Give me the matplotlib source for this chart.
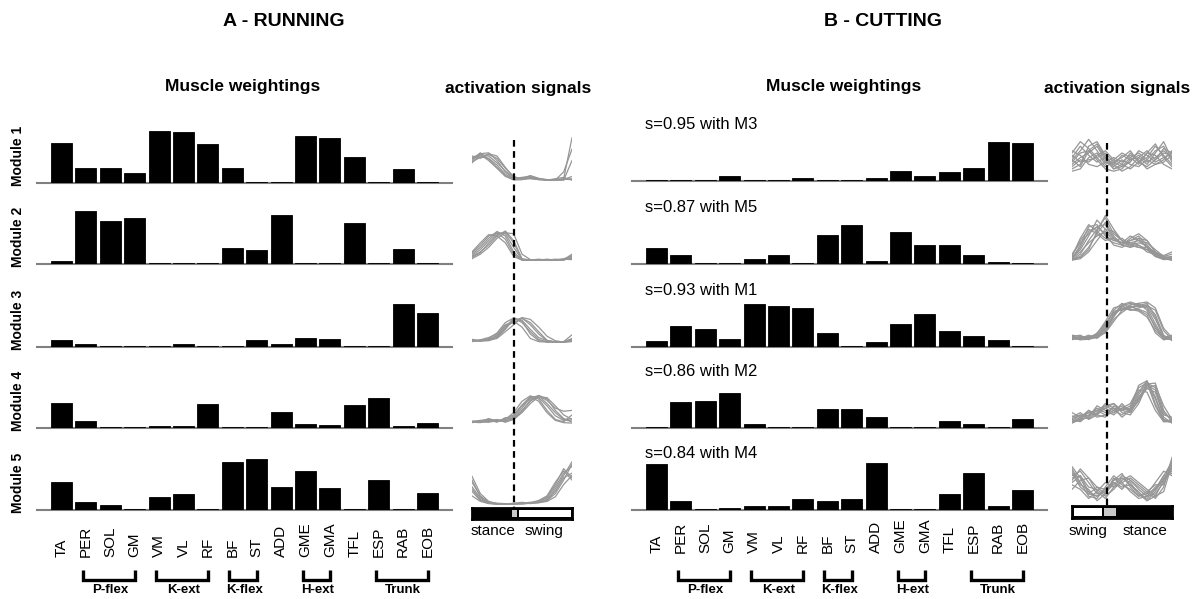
import matplotlib
matplotlib.use('Agg')
import matplotlib.pyplot as plt
import matplotlib.transforms as mtransforms
from matplotlib.lines import Line2D
import numpy as np

plt.rcParams['font.family'] = ['Liberation Sans', 'DejaVu Sans']

# muscles and groups
muscles = ['TA', 'PER', 'SOL', 'GM', 'VM', 'VL', 'RF', 'BF', 'ST', 'ADD',
           'GME', 'GMA', 'TFL', 'ESP', 'RAB', 'EOB']
group_names = ['P-flex', 'K-ext', 'K-flex', 'H-ext', 'Trunk']
group_first = [1, 4, 7, 10, 13]
group_last = [3, 6, 8, 11, 15]

# muscle weightings, running (modules 1-5)
run_weights = [
    [0.73, 0.27, 0.27, 0.19, 0.945, 0.927, 0.72, 0.27, 0.01, 0.01, 0.855, 0.82, 0.47, 0.01, 0.25, 0.01],
    [0.06, 0.97, 0.78, 0.85, 0.01, 0.01, 0.01, 0.30, 0.25, 0.89, 0.01, 0.01, 0.76, 0.01, 0.27, 0.025],
    [0.13, 0.05, 0.01, 0.01, 0.01, 0.05, 0.01, 0.01, 0.13, 0.05, 0.16, 0.15, 0.01, 0.01, 0.78, 0.62],
    [0.46, 0.13, 0.01, 0.01, 0.03, 0.03, 0.44, 0.01, 0.01, 0.30, 0.067, 0.055, 0.42, 0.545, 0.03, 0.10],
    [0.51, 0.14, 0.10, 0.01, 0.24, 0.285, 0.01, 0.88, 0.94, 0.43, 0.715, 0.40, 0.01, 0.545, 0.01, 0.32],
]

# muscle weightings, cutting (modules 1-5)
cut_weights = [
    [0.02, 0.01, 0.02, 0.10, 0.01, 0.01, 0.05, 0.01, 0.02, 0.06, 0.19, 0.10, 0.16, 0.24, 0.715, 0.70],
    [0.30, 0.17, 0.01, 0.01, 0.09, 0.17, 0.01, 0.54, 0.72, 0.06, 0.59, 0.35, 0.35, 0.17, 0.04, 0.01],
    [0.11, 0.38, 0.33, 0.145, 0.78, 0.745, 0.71, 0.255, 0.01, 0.085, 0.42, 0.60, 0.30, 0.21, 0.13, 0.01],
    [0.015, 0.485, 0.50, 0.64, 0.067, 0.02, 0.02, 0.345, 0.345, 0.21, 0.015, 0.02, 0.13, 0.067, 0.02, 0.17],
    [0.84, 0.17, 0.01, 0.036, 0.08, 0.08, 0.21, 0.17, 0.21, 0.86, 0.01, 0.01, 0.30, 0.67, 0.08, 0.36],
]
cut_similarity = [0.95, 0.87, 0.93, 0.86, 0.84]
cut_match = ['M3', 'M5', 'M1', 'M2', 'M4']

# activation signals sampled over the cycle (0..1)
cycle = np.linspace(0, 1, 13)
run_curves = [
    [[0.45, 0.60, 0.62, 0.45, 0.20, 0.05, 0.08, 0.10, 0.05, 0.03, 0.03, 0.05, 0.95],
     [0.50, 0.55, 0.50, 0.35, 0.15, 0.04, 0.06, 0.12, 0.06, 0.02, 0.02, 0.02, 0.45],
     [0.40, 0.58, 0.55, 0.40, 0.22, 0.08, 0.05, 0.05, 0.03, 0.02, 0.02, 0.03, 0.10],
     [0.55, 0.50, 0.58, 0.50, 0.28, 0.10, 0.04, 0.08, 0.04, 0.02, 0.05, 0.08, 0.02],
     [0.48, 0.62, 0.48, 0.30, 0.12, 0.02, 0.03, 0.06, 0.03, 0.03, 0.02, 0.03, 0.05],
     [0.42, 0.52, 0.60, 0.55, 0.30, 0.08, 0.04, 0.07, 0.05, 0.03, 0.02, 0.20, 0.70],
     [0.52, 0.58, 0.45, 0.28, 0.10, 0.03, 0.05, 0.09, 0.04, 0.02, 0.03, 0.04, 0.03]],
    [[0.15, 0.30, 0.50, 0.65, 0.55, 0.20, 0.02, 0.02, 0.03, 0.02, 0.03, 0.03, 0.05],
     [0.10, 0.20, 0.35, 0.55, 0.66, 0.45, 0.05, 0.02, 0.02, 0.04, 0.02, 0.03, 0.15],
     [0.20, 0.40, 0.58, 0.55, 0.40, 0.10, 0.02, 0.03, 0.02, 0.02, 0.03, 0.02, 0.08],
     [0.05, 0.15, 0.30, 0.50, 0.62, 0.60, 0.15, 0.03, 0.02, 0.03, 0.02, 0.04, 0.03],
     [0.12, 0.25, 0.45, 0.62, 0.60, 0.30, 0.03, 0.02, 0.04, 0.02, 0.02, 0.02, 0.12],
     [0.08, 0.18, 0.40, 0.58, 0.64, 0.40, 0.04, 0.02, 0.03, 0.02, 0.04, 0.03, 0.06],
     [0.18, 0.35, 0.55, 0.62, 0.48, 0.15, 0.02, 0.03, 0.02, 0.03, 0.02, 0.05, 0.10]],
    [[0.05, 0.05, 0.08, 0.15, 0.35, 0.50, 0.55, 0.40, 0.20, 0.05, 0.02, 0.02, 0.05],
     [0.06, 0.04, 0.10, 0.22, 0.45, 0.55, 0.45, 0.25, 0.08, 0.02, 0.02, 0.03, 0.18],
     [0.04, 0.06, 0.06, 0.10, 0.25, 0.40, 0.56, 0.52, 0.35, 0.15, 0.05, 0.02, 0.03],
     [0.08, 0.05, 0.05, 0.12, 0.30, 0.52, 0.50, 0.30, 0.12, 0.05, 0.03, 0.03, 0.08],
     [0.05, 0.07, 0.12, 0.20, 0.40, 0.48, 0.35, 0.10, 0.03, 0.02, 0.02, 0.02, 0.04],
     [0.07, 0.04, 0.06, 0.18, 0.38, 0.45, 0.54, 0.45, 0.25, 0.06, 0.02, 0.03, 0.06],
     [0.03, 0.06, 0.09, 0.14, 0.32, 0.56, 0.48, 0.20, 0.05, 0.03, 0.03, 0.02, 0.10]],
    [[0.05, 0.08, 0.10, 0.08, 0.05, 0.15, 0.35, 0.58, 0.62, 0.45, 0.25, 0.10, 0.05],
     [0.04, 0.05, 0.12, 0.06, 0.10, 0.25, 0.50, 0.62, 0.55, 0.30, 0.10, 0.05, 0.20],
     [0.06, 0.04, 0.05, 0.10, 0.04, 0.10, 0.25, 0.45, 0.60, 0.58, 0.40, 0.20, 0.10],
     [0.03, 0.06, 0.08, 0.05, 0.12, 0.20, 0.42, 0.60, 0.50, 0.25, 0.08, 0.03, 0.02],
     [0.05, 0.05, 0.04, 0.07, 0.06, 0.12, 0.30, 0.50, 0.62, 0.52, 0.35, 0.28, 0.30],
     [0.06, 0.07, 0.05, 0.09, 0.08, 0.18, 0.40, 0.55, 0.58, 0.40, 0.18, 0.08, 0.12],
     [0.04, 0.03, 0.09, 0.04, 0.14, 0.10, 0.28, 0.52, 0.63, 0.55, 0.30, 0.12, 0.06]],
    [[0.63, 0.25, 0.08, 0.03, 0.02, 0.03, 0.05, 0.04, 0.08, 0.15, 0.40, 0.70, 0.85],
     [0.40, 0.15, 0.05, 0.02, 0.03, 0.02, 0.04, 0.06, 0.05, 0.10, 0.25, 0.55, 0.90],
     [0.30, 0.10, 0.04, 0.03, 0.02, 0.04, 0.03, 0.05, 0.10, 0.20, 0.50, 0.75, 0.55],
     [0.20, 0.08, 0.03, 0.02, 0.02, 0.03, 0.06, 0.03, 0.06, 0.12, 0.30, 0.60, 0.70],
     [0.50, 0.20, 0.06, 0.04, 0.03, 0.02, 0.03, 0.04, 0.05, 0.08, 0.18, 0.45, 0.65],
     [0.55, 0.18, 0.05, 0.03, 0.02, 0.02, 0.04, 0.05, 0.07, 0.18, 0.45, 0.80, 0.60],
     [0.35, 0.12, 0.04, 0.02, 0.03, 0.03, 0.02, 0.04, 0.06, 0.10, 0.35, 0.65, 0.95]],
]
cut_curves = [
    [[0.40, 0.60, 0.85, 0.60, 0.35, 0.30, 0.50, 0.40, 0.45, 0.30, 0.55, 0.80, 0.40],
     [0.30, 0.45, 0.55, 0.70, 0.40, 0.20, 0.30, 0.55, 0.35, 0.45, 0.70, 0.50, 0.30],
     [0.50, 0.35, 0.40, 0.45, 0.55, 0.35, 0.25, 0.35, 0.60, 0.50, 0.35, 0.45, 0.55],
     [0.20, 0.30, 0.70, 0.80, 0.50, 0.25, 0.40, 0.30, 0.25, 0.40, 0.60, 0.70, 0.35],
     [0.60, 0.50, 0.30, 0.25, 0.35, 0.45, 0.35, 0.50, 0.40, 0.20, 0.30, 0.40, 0.60],
     [0.35, 0.55, 0.60, 0.40, 0.20, 0.15, 0.20, 0.40, 0.50, 0.35, 0.45, 0.60, 0.45],
     [0.15, 0.20, 0.45, 0.55, 0.30, 0.40, 0.55, 0.45, 0.30, 0.55, 0.50, 0.30, 0.20],
     [0.45, 0.70, 0.50, 0.35, 0.45, 0.30, 0.15, 0.25, 0.45, 0.60, 0.40, 0.55, 0.50],
     [0.55, 0.80, 0.65, 0.45, 0.25, 0.35, 0.45, 0.60, 0.35, 0.25, 0.40, 0.65, 0.55],
     [0.25, 0.40, 0.35, 0.50, 0.60, 0.40, 0.30, 0.20, 0.35, 0.55, 0.75, 0.45, 0.25],
     [0.40, 0.25, 0.60, 0.75, 0.45, 0.20, 0.25, 0.45, 0.55, 0.40, 0.30, 0.35, 0.50]],
    [[0.05, 0.35, 0.75, 0.80, 0.55, 0.45, 0.40, 0.45, 0.50, 0.30, 0.10, 0.03, 0.05],
     [0.02, 0.15, 0.45, 0.70, 0.95, 0.60, 0.45, 0.35, 0.40, 0.35, 0.15, 0.05, 0.03],
     [0.10, 0.50, 0.80, 0.65, 0.50, 0.40, 0.35, 0.50, 0.60, 0.45, 0.20, 0.08, 0.10],
     [0.03, 0.10, 0.30, 0.60, 0.85, 0.55, 0.35, 0.30, 0.35, 0.25, 0.10, 0.05, 0.02],
     [0.15, 0.40, 0.60, 0.75, 0.60, 0.35, 0.30, 0.40, 0.35, 0.20, 0.15, 0.10, 0.15],
     [0.02, 0.05, 0.20, 0.45, 0.70, 0.65, 0.45, 0.40, 0.45, 0.40, 0.25, 0.10, 0.05],
     [0.08, 0.25, 0.55, 0.90, 0.70, 0.50, 0.40, 0.55, 0.45, 0.30, 0.12, 0.04, 0.08],
     [0.05, 0.20, 0.40, 0.55, 0.65, 0.45, 0.50, 0.35, 0.30, 0.30, 0.20, 0.08, 0.03],
     [0.04, 0.30, 0.65, 0.75, 0.80, 0.50, 0.35, 0.45, 0.55, 0.35, 0.15, 0.06, 0.02],
     [0.12, 0.45, 0.70, 0.60, 0.45, 0.50, 0.40, 0.35, 0.30, 0.25, 0.18, 0.12, 0.20],
     [0.03, 0.08, 0.25, 0.65, 1.00, 0.70, 0.45, 0.30, 0.50, 0.45, 0.20, 0.06, 0.04]],
    [[0.10, 0.08, 0.12, 0.10, 0.25, 0.55, 0.80, 0.85, 0.80, 0.75, 0.40, 0.08, 0.05],
     [0.05, 0.10, 0.08, 0.15, 0.35, 0.70, 0.85, 0.75, 0.80, 0.85, 0.55, 0.10, 0.08],
     [0.15, 0.12, 0.10, 0.12, 0.20, 0.45, 0.70, 0.80, 0.70, 0.60, 0.20, 0.05, 0.10],
     [0.08, 0.05, 0.06, 0.10, 0.30, 0.60, 0.75, 0.70, 0.75, 0.80, 0.70, 0.25, 0.05],
     [0.12, 0.15, 0.05, 0.20, 0.40, 0.65, 0.72, 0.82, 0.85, 0.70, 0.30, 0.10, 0.15],
     [0.06, 0.08, 0.15, 0.08, 0.22, 0.50, 0.65, 0.78, 0.78, 0.82, 0.60, 0.15, 0.03],
     [0.10, 0.05, 0.10, 0.18, 0.45, 0.75, 0.80, 0.70, 0.72, 0.65, 0.35, 0.05, 0.08],
     [0.12, 0.08, 0.08, 0.14, 0.28, 0.62, 0.82, 0.88, 0.82, 0.78, 0.50, 0.12, 0.06],
     [0.08, 0.12, 0.10, 0.12, 0.38, 0.68, 0.70, 0.75, 0.85, 0.88, 0.75, 0.30, 0.10],
     [0.14, 0.06, 0.12, 0.16, 0.30, 0.58, 0.78, 0.72, 0.68, 0.55, 0.25, 0.08, 0.12]],
    [[0.05, 0.15, 0.25, 0.30, 0.40, 0.30, 0.20, 0.35, 0.70, 0.95, 0.60, 0.10, 0.05],
     [0.10, 0.05, 0.20, 0.35, 0.25, 0.35, 0.30, 0.25, 0.55, 0.90, 0.80, 0.25, 0.08],
     [0.15, 0.25, 0.10, 0.20, 0.35, 0.45, 0.25, 0.20, 0.45, 0.85, 0.75, 0.15, 0.02],
     [0.02, 0.10, 0.15, 0.40, 0.30, 0.20, 0.35, 0.45, 0.80, 0.90, 0.40, 0.05, 0.05],
     [0.25, 0.15, 0.30, 0.15, 0.20, 0.30, 0.40, 0.30, 0.60, 0.80, 0.85, 0.40, 0.10],
     [0.08, 0.20, 0.12, 0.25, 0.45, 0.35, 0.15, 0.30, 0.65, 0.92, 0.55, 0.08, 0.03],
     [0.05, 0.08, 0.30, 0.20, 0.15, 0.40, 0.30, 0.40, 0.75, 0.70, 0.30, 0.05, 0.10],
     [0.12, 0.20, 0.18, 0.30, 0.35, 0.25, 0.35, 0.30, 0.50, 0.88, 0.90, 0.30, 0.05],
     [0.03, 0.12, 0.25, 0.22, 0.40, 0.45, 0.30, 0.35, 0.85, 0.95, 0.45, 0.06, 0.08],
     [0.18, 0.10, 0.15, 0.30, 0.20, 0.25, 0.45, 0.25, 0.55, 0.78, 0.70, 0.20, 0.15]],
    [[0.80, 0.55, 0.20, 0.15, 0.30, 0.50, 0.55, 0.40, 0.20, 0.10, 0.30, 0.60, 0.90],
     [0.60, 0.70, 0.45, 0.20, 0.25, 0.40, 0.60, 0.50, 0.30, 0.15, 0.20, 0.45, 0.75],
     [0.40, 0.30, 0.10, 0.25, 0.45, 0.35, 0.45, 0.55, 0.40, 0.25, 0.10, 0.35, 1.00],
     [0.70, 0.40, 0.30, 0.05, 0.20, 0.55, 0.40, 0.30, 0.15, 0.20, 0.45, 0.70, 0.60],
     [0.55, 0.60, 0.35, 0.30, 0.15, 0.30, 0.50, 0.60, 0.45, 0.30, 0.15, 0.25, 0.85],
     [0.30, 0.50, 0.55, 0.35, 0.20, 0.45, 0.35, 0.40, 0.25, 0.05, 0.25, 0.55, 0.70],
     [0.75, 0.45, 0.15, 0.10, 0.35, 0.60, 0.45, 0.25, 0.10, 0.15, 0.35, 0.50, 0.95],
     [0.50, 0.75, 0.55, 0.25, 0.10, 0.35, 0.55, 0.45, 0.20, 0.05, 0.15, 0.50, 0.80],
     [0.65, 0.35, 0.20, 0.35, 0.30, 0.45, 0.30, 0.50, 0.35, 0.20, 0.30, 0.60, 0.65],
     [0.45, 0.60, 0.25, 0.15, 0.25, 0.50, 0.65, 0.35, 0.15, 0.25, 0.40, 0.40, 0.90]],
]

# phase transitions (fraction of cycle)
run_transition = 0.42
cut_transition = 0.35

W, H = 1201, 599
fig = plt.figure(figsize=(W / 100, H / 100), dpi=100)


def fx(px):
    return px / W


def fy(py):
    return 1 - py / H


def draw_weights(left, bases, weights, label_drop):
    axes = []
    x = np.arange(len(muscles))
    for i, base in enumerate(bases):
        ax = fig.add_axes([fx(left), fy(base), 415 / W, 60 / H])
        ax.bar(x, weights[i], width=0.86, color='black', edgecolor='black',
               linewidth=0.6, zorder=3)
        ax.set_xlim(-1, 16)
        ax.set_ylim(0, 1.1)
        for s in ['top', 'left', 'right']:
            ax.spines[s].set_visible(False)
        ax.spines['bottom'].set_color('#808080')
        ax.spines['bottom'].set_linewidth(1.5)
        ax.set_xticks([])
        ax.set_yticks([])
        ax.patch.set_alpha(0)
        axes.append(ax)
    ax = axes[-1]
    tr = ax.get_xaxis_transform()
    # muscle names, bottom aligned
    for i, m in enumerate(muscles):
        ax.text(i, -label_drop / 60, m, rotation=90, rotation_mode='anchor',
                ha='left', va='center', fontsize=11, transform=tr)
    # muscle group brackets
    y_top = -(570 - bases[-1]) / 60
    y_bot = -(580 - bases[-1]) / 60
    for name, a, b in zip(group_names, group_first, group_last):
        xs = [a - 0.12, a - 0.12, b + 0.02, b + 0.02]
        ys = [y_top, y_bot, y_bot, y_top]
        ax.plot(xs, ys, color='black', lw=2.4, transform=tr, clip_on=False,
                solid_capstyle='butt', solid_joinstyle='miter')
        ax.text((a + b) / 2, -(590 - bases[-1]) / 60, name, ha='center', va='center',
                fontsize=9.5, fontweight='bold', transform=tr)
    return axes


def draw_activation(left, bases, curves):
    axes = []
    for i, base in enumerate(bases):
        ax = fig.add_axes([fx(left), fy(base), 100 / W, 50 / H])
        for c in curves[i]:
            ax.plot(cycle, c, color='#969696', lw=0.9)
        ax.set_xlim(0, 1)
        ax.set_ylim(0, 1.1)
        ax.axis('off')
        axes.append(ax)
    return axes


def draw_phase_bar(left, top, bottom, grey_span, white_span, labels):
    ax = fig.add_axes([fx(left), fy(bottom), 100 / W, (bottom - top) / H])
    ax.set_xlim(0, 1)
    ax.set_ylim(0, 1)
    ax.set_facecolor('black')
    ax.set_xticks([])
    ax.set_yticks([])
    for s in ax.spines.values():
        s.set_linewidth(2)
    ax.barh(0.5, white_span[1] - white_span[0], left=white_span[0], height=0.6, color='white')
    ax.barh(0.5, grey_span[1] - grey_span[0], left=grey_span[0], height=0.6, color='#c8c8c8')
    for name, xc in labels:
        ax.text(xc, -1.1, name, ha='center', va='center', fontsize=11)
    return ax


# titles
fig.text(fx(284), fy(22), 'A - RUNNING', ha='center', va='center', fontsize=14, fontweight='bold')
fig.text(fx(883), fy(22), 'B - CUTTING', ha='center', va='center', fontsize=14, fontweight='bold')
fig.text(fx(243), fy(86), 'Muscle weightings', ha='center', va='center', fontsize=12.5, fontweight='bold')
fig.text(fx(844), fy(86), 'Muscle weightings', ha='center', va='center', fontsize=12.5, fontweight='bold')
fig.text(fx(518), fy(88), 'activation signals', ha='center', va='center', fontsize=12.5, fontweight='bold')
fig.text(fx(1117), fy(88), 'activation signals', ha='center', va='center', fontsize=12.5, fontweight='bold')

run_bases = [183, 264, 347, 428, 510]
cut_bases = [181, 264, 347, 428, 510]
draw_weights(37, run_bases, run_weights, 47)
cut_axes = draw_weights(632, cut_bases, cut_weights, 43)

for i, base in enumerate(run_bases):
    fig.text(fx(18), fy(base - 27), 'Module %d' % (i + 1), rotation=90, ha='center',
             va='center', fontsize=10, fontweight='bold')

for i, ax in enumerate(cut_axes):
    ax.text(-0.45, 1.04, 's=%.2f with %s' % (cut_similarity[i], cut_match[i]),
            ha='left', va='center', fontsize=12)

run_act = draw_activation(472, [181, 261, 343, 424, 505], run_curves)
cut_act = draw_activation(1072, [178, 261, 342, 424, 503], cut_curves)

draw_phase_bar(472, 508, 519, (0.40, 0.45), (0.47, 0.985),
               [('stance', 0.21), ('swing', 0.72)])
draw_phase_bar(1072, 506, 518, (0.32, 0.44), (0.02, 0.30),
               [('swing', 0.16), ('stance', 0.73)])

# dashed transition lines spanning all modules
for ax, t, y0, y1 in [(run_act[0], run_transition, 140, 508),
                      (cut_act[0], cut_transition, 143, 508)]:
    tr = mtransforms.blended_transform_factory(ax.transData, fig.transFigure)
    fig.add_artist(Line2D([t, t], [fy(y0), fy(y1)], transform=tr, color='black',
                          lw=1.6, linestyle=(0, (3, 2))))

fig.savefig('out.png', dpi=100)
